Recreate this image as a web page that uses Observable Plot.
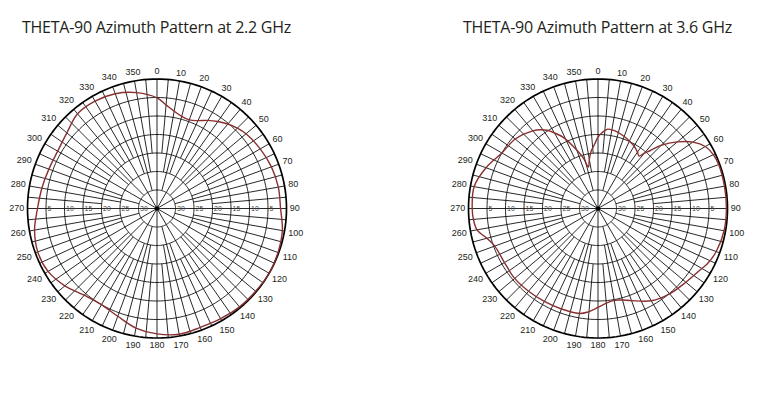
<!DOCTYPE html>
<html><head><meta charset="utf-8">
<script src="https://cdn.jsdelivr.net/npm/d3@7"></script>
<script src="https://cdn.jsdelivr.net/npm/@observablehq/plot@0.6"></script>
<style>
body{margin:0;background:#fff;}
#wrap{position:relative;width:765px;height:398px;overflow:hidden;background:#fff;}
.title{position:absolute;top:17px;font-family:"Open Sans";font-size:16px;letter-spacing:-0.25px;color:#231f20;white-space:nowrap;line-height:20px;}
.panel{position:absolute;top:0;}
</style></head><body>
<div id="wrap"></div>
<script>
// ---- data ----
const titles = ["THETA-90 Azimuth Pattern at 2.2 GHz", "THETA-90 Azimuth Pattern at 3.6 GHz"];

const azimuth22 = [0,5,10,15,20,25,30,35,40,45,50,60,70,80,90,100,110,120,130,140,150,160,170,180,190,200,210,220,230,240,250,260,270,280,290,300,310,320,330,340,350];
const gain22 = [-5.1,-6.9,-8.3,-9.2,-9.5,-8.8,-7.5,-6.3,-5.2,-4.3,-3.6,-2.8,-2.1,-1.7,-1.6,-0.6,-0.2,0,-0.2,-0.3,-0.6,-0.8,-0.5,-1.1,-2.2,-4.0,-5.0,-4.4,-2.5,-1.0,-0.7,-1.4,-2.7,-3.4,-3.9,-4.0,-3.2,-1.6,-1.5,-2.0,-3.2];

const azimuth36 = [0,3,7,12,20,25,30,35,38,40,42,45,50,55,60,65,70,80,90,100,110,117,120,130,140,150,160,165,170,175,180,186,190,200,210,220,230,240,250,255,260,265,270,280,290,300,310,320,324,327,330,334,340,344,347,350,353,357];
const gain36 = [-15.7,-14.5,-13.4,-13.5,-14.3,-14.9,-15.5,-16.4,-17.0,-15.5,-14.0,-10.9,-7.0,-3.7,-1.5,-0.6,-0.3,-0.3,-0.3,-0.4,-1.0,-1.9,-2.6,-4.0,-4.9,-6.2,-8.5,-9.4,-9.8,-9.3,-8.3,-6.8,-6.2,-6.1,-6.0,-5.8,-5.6,-5.8,-5.3,-3.9,-1.8,-1.2,-1.0,-1.0,-2.8,-5.0,-5.8,-7.6,-8.7,-9.8,-11.4,-13.6,-18.2,-21.0,-23.5,-21.5,-19.5,-17.6];

const ringLevels = [-30,-25,-20,-15,-10,-5];
const ringLabels = ["30","25","20","15","10","5"];
const angleTicks = [0,10,20,30,40,50,60,70,80,90,100,110,120,130,140,150,160,170,180,190,200,210,220,230,240,250,260,270,280,290,300,310,320,330,340,350];
const spokeAngles = d3.range(0, 360, 5);

// ---- geometry helpers ----
const FLOOR = -35;            // dB at the centre
const PX = 259 / 70;          // px per radial unit
const rad = db => db - FLOOR;
const toRad = a => a * Math.PI / 180;
const px = (az, db) => rad(db) * Math.sin(toRad(az));
const py = (az, db) => rad(db) * Math.cos(toRad(az));

function spokeStart(a) {
  if (a % 30 === 0) return FLOOR;
  if (a % 15 === 0) return -30;
  if (a % 10 === 0) return -25;
  return -20;
}

function makePanel(azimuth, gain, w) {
  const pts = azimuth.map((a, i) => ({az: a, g: gain[i]}));
  const circ = d3.range(0, 361, 2);
  const rings = ringLevels.flatMap(l => circ.map(a => ({l, a})));
  const outer = circ.map(a => ({a}));
  const spokes = spokeAngles.map(a => ({a, r0: spokeStart(a)}));
  const angleLab = angleTicks.map(a => {
    const s = String(a);
    const halfW = 2.55 * s.length, halfH = 4.3;
    const off = 3.2 + halfW * Math.abs(Math.sin(toRad(a))) + halfH * Math.abs(Math.cos(toRad(a)));
    return {a, s, x: px(a, off / PX), y: py(a, off / PX)};
  });
  const ringLab = ringLevels.flatMap((l, i) => [
    {x: -rad(l), s: ringLabels[i]},
    {x: rad(l), s: ringLabels[i]}
  ]);
  return Plot.plot({
    width: w, height: 398,
    marginLeft: 27, marginRight: w - 286, marginTop: 78.5, marginBottom: 60.5,
    x: {domain: [-35, 35], axis: null},
    y: {domain: [-35, 35], axis: null},
    style: {background: "transparent", overflow: "visible"},
    marks: [
      Plot.line(rings, {x: d => px(d.a, d.l), y: d => py(d.a, d.l), z: "l", stroke: "#111", strokeWidth: 0.9}),
      Plot.link(spokes, {x1: d => px(d.a, d.r0), y1: d => py(d.a, d.r0), x2: d => px(d.a, 0), y2: d => py(d.a, 0), stroke: "#111", strokeWidth: 0.9}),
      Plot.line(outer, {x: d => px(d.a, 0), y: d => py(d.a, 0), stroke: "#000", strokeWidth: 1.7}),
      Plot.dot([{a: 0}], {x: 0, y: 0, r: 2.3, fill: "#000"}),
      Plot.text(ringLab, {x: d => d.x, y: 0, text: "s", textAnchor: "start", lineAnchor: "bottom", dx: 1.5, dy: 2, fontSize: 7, fill: "#444", fontFamily: "Liberation Sans, Arial, sans-serif"}),
      Plot.line(pts, {x: d => px(d.az, d.g), y: d => py(d.az, d.g), curve: "catmull-rom-closed", stroke: "#883030", strokeWidth: 1.4}),
      Plot.text(angleLab, {x: "x", y: "y", text: "s", fontSize: 9, fill: "#231f20", fontFamily: "Liberation Sans, Arial, sans-serif"})
    ]
  });
}

const wrap = document.getElementById("wrap");
const panels = [
  {left: 0, w: 382, az: azimuth22, g: gain22, t: titles[0]},
  {left: 441, w: 324, az: azimuth36, g: gain36, t: titles[1]}
];
for (const p of panels) {
  const div = document.createElement("div");
  div.className = "panel";
  div.style.left = p.left + "px";
  div.appendChild(makePanel(p.az, p.g, p.w));
  wrap.appendChild(div);
  const t = document.createElement("div");
  t.className = "title";
  t.style.left = (p.left + 22) + "px";
  t.textContent = p.t;
  wrap.appendChild(t);
}
</script>
</body></html>
